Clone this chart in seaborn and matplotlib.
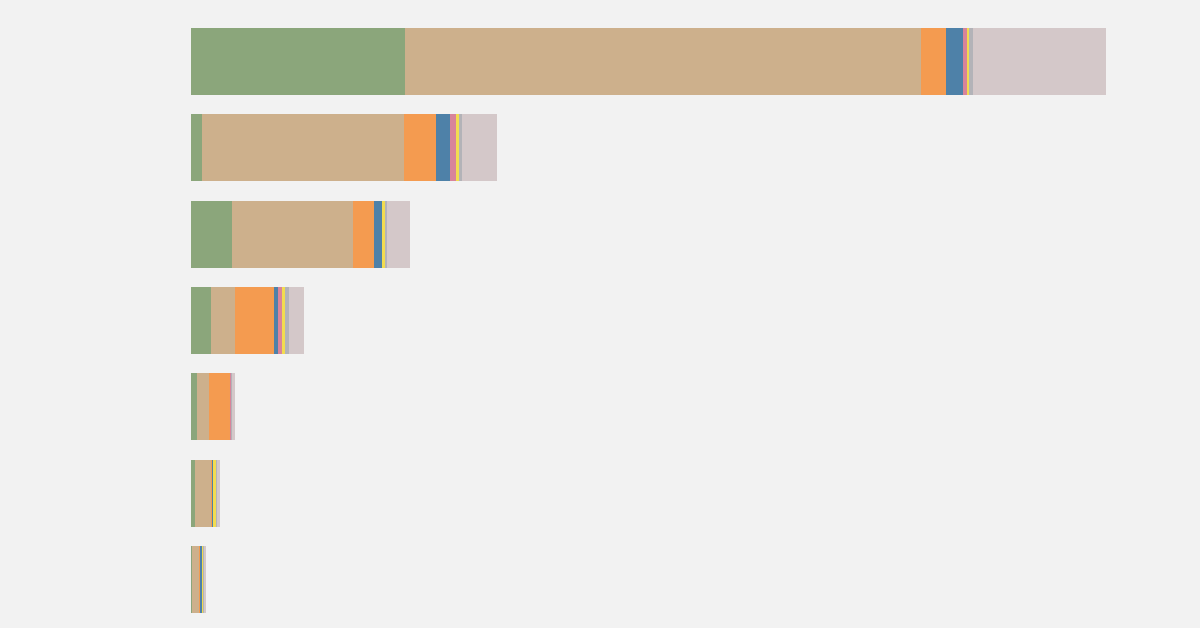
import numpy as np
import pandas as pd
import matplotlib
matplotlib.use("Agg")
import matplotlib.pyplot as plt
import seaborn as sns

# rows, top to bottom
rows = ["r1", "r2", "r3", "r4", "r5", "r6", "r7"]

# segment values per row (same order as rows)
green = [214, 11, 41, 20, 6, 4, 1.3]
tan = [516, 202, 121, 24, 12, 16, 7]
orange = [25, 32, 21, 39, 20.5, 0.5, 0.5]
blue = [17, 14, 7.5, 4, 0.5, 1.5, 2]
pink = [4, 6, 0.5, 4, 0.5, 0.3, 0.3]
yellow = [2, 2.5, 3, 3, 0.3, 2.3, 0.5]
gray = [4, 3.5, 2, 4, 1.5, 1.2, 1.5]
mauve = [133, 35, 23, 15, 2.5, 3.2, 2]

segments = ["green", "tan", "orange", "blue", "pink", "yellow", "gray", "mauve"]
colors = ["#8ba67b", "#cdb08c", "#f49b50", "#4e81a8", "#d8849a", "#f2dc50", "#b3b3b8", "#d4c8c9"]

df = pd.DataFrame({"row": rows, "green": green, "tan": tan, "orange": orange,
                   "blue": blue, "pink": pink, "yellow": yellow, "gray": gray,
                   "mauve": mauve})
cum = df[segments].cumsum(axis=1)

bg = "#f2f2f2"
fig = plt.figure(figsize=(12, 6.28), dpi=100, facecolor=bg)
ax = fig.add_axes([191 / 1200, 0, 1009 / 1200, 1])
ax.set_facecolor(bg)

# stacked bars: draw cumulative totals from last segment to first
for seg, col in reversed(list(zip(segments, colors))):
    sns.barplot(x=cum[seg], y=df["row"], orient="h", color=col, saturation=1,
                width=0.776, linewidth=0, ax=ax)

ax.set_xlim(0, 1009)
ax.set_ylim(6 + 48.5 / 86.33, -61.5 / 86.33)
ax.set_axis_off()

fig.savefig("out.png", dpi=100, facecolor=bg)
